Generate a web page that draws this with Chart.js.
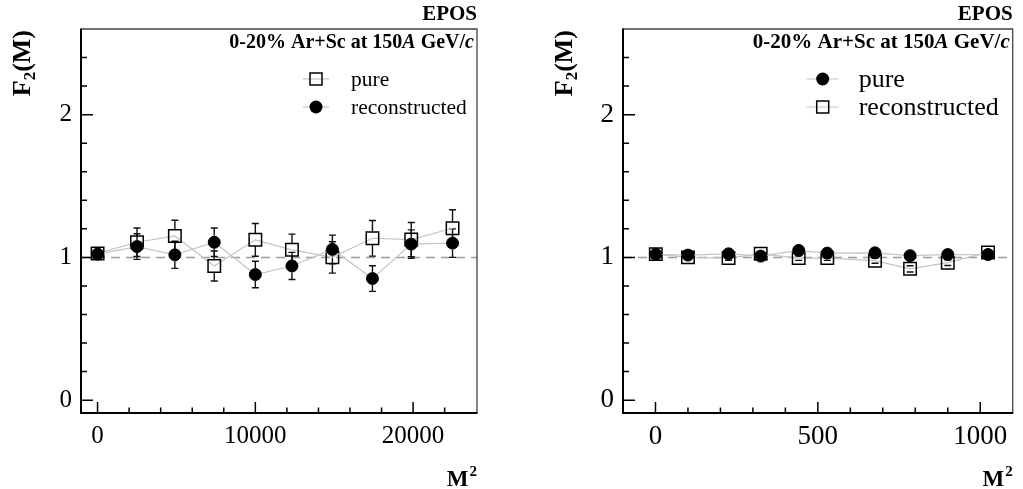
<!DOCTYPE html>
<html><head><meta charset="utf-8">
<script src="https://cdn.jsdelivr.net/npm/chart.js@4.4.0/dist/chart.umd.min.js"></script>
<style>
html,body{margin:0;padding:0;background:#fff;width:1023px;height:489px;overflow:hidden}
canvas{position:absolute;top:0}
</style></head><body>
<canvas id="cL" width="512" height="489" style="left:0px"></canvas>
<canvas id="cR" width="512" height="489" style="left:511px"></canvas>
<script>
// ---------------- DATA ----------------
const LEFT_M2        = [1, 2500, 4900, 7396, 10000, 12321, 14884, 17424, 19881, 22500];
const LEFT_PURE      = [1.028, 1.106, 1.150, 0.940, 1.123, 1.053, 1.000, 1.134, 1.125, 1.204];
const LEFT_PURE_ERR  = [0.020, 0.100, 0.110, 0.105, 0.115, 0.110, 0.110, 0.125, 0.120, 0.130];
const LEFT_RECO      = [1.023, 1.076, 1.018, 1.106, 0.880, 0.940, 1.056, 0.852, 1.093, 1.100];
const LEFT_RECO_ERR  = [0.020, 0.090, 0.095, 0.100, 0.093, 0.095, 0.100, 0.090, 0.100, 0.100];

const RIGHT_M2       = [1, 100, 225, 324, 441, 529, 676, 784, 900, 1024];
const RIGHT_PURE     = [1.022, 1.016, 1.025, 1.009, 1.049, 1.030, 1.032, 1.012, 1.020, 1.020];
const RIGHT_PURE_ERR = [0.012, 0.012, 0.012, 0.012, 0.012, 0.012, 0.012, 0.012, 0.012, 0.012];
const RIGHT_RECO     = [1.023, 1.000, 0.995, 1.025, 0.995, 0.995, 0.977, 0.920, 0.963, 1.035];
const RIGHT_RECO_ERR = [0.012, 0.014, 0.015, 0.015, 0.016, 0.016, 0.018, 0.022, 0.020, 0.014];

const Y_TICKS        = [0, 1, 2];
const Y_MINOR        = [0.2, 0.4, 0.6, 0.8, 1.2, 1.4, 1.6, 1.8, 2.2, 2.4];
const LEFT_X_TICKS   = [0, 10000, 20000];
const LEFT_X_MINOR   = [2000, 4000, 6000, 8000, 12000, 14000, 16000, 18000, 22000];
const RIGHT_X_TICKS  = [0, 500, 1000];
const RIGHT_X_MINOR  = [100, 200, 300, 400, 600, 700, 800, 900];

const GENERATOR   = 'EPOS';
const SYSTEM_TEXT = [['0-20% Ar+Sc at 150', ''], ['A', 'italic '], [' GeV/', ''], ['c', 'italic ']];
const LABEL_PURE  = 'pure';
const LABEL_RECO  = 'reconstructed';
const Y_TITLE     = ['F', '2', '(M)'];
const X_TITLE     = ['M', '2'];

// ---------------- STYLE ----------------
const SERIF = '"Liberation Serif", "Times New Roman", "DejaVu Serif", serif';
const LINE_GREY = '#c4c4c4';

function segWidth(ctx, segs, size) {
  let w = 0;
  segs.forEach(([t, st]) => { ctx.font = st + 'bold ' + size + 'px ' + SERIF; w += ctx.measureText(t).width; });
  return w;
}
function drawSegs(ctx, segs, size, xRight, y) {
  let x = xRight - segWidth(ctx, segs, size);
  ctx.textAlign = 'left'; ctx.textBaseline = 'alphabetic';
  segs.forEach(([t, st]) => { ctx.font = st + 'bold ' + size + 'px ' + SERIF; ctx.fillText(t, x, y); x += ctx.measureText(t).width; });
}
function drawMarker(ctx, kind, x, y) {
  ctx.save();
  ctx.strokeStyle = '#000';
  if (kind === 'circle') {
    ctx.fillStyle = '#000'; ctx.beginPath(); ctx.arc(x, y, 6.5, 0, Math.PI * 2); ctx.fill();
  } else {
    ctx.lineWidth = 1.5; ctx.strokeRect(x - 6, y - 6, 12, 12);
  }
  ctx.restore();
}

const deco = {
  id: 'deco',
  beforeDatasetsDraw(chart) {
    const ctx = chart.ctx;
    const { left, right } = chart.chartArea;
    const xs = chart.scales.x, ys = chart.scales.y;
    ctx.save();
    ctx.strokeStyle = '#9c9c9c'; ctx.lineWidth = 1.5; ctx.setLineDash([9, 6]);
    const y1 = ys.getPixelForValue(1);
    ctx.beginPath(); ctx.moveTo(left, y1); ctx.lineTo(right, y1); ctx.stroke();
    ctx.setLineDash([]);
    ctx.strokeStyle = '#111'; ctx.lineWidth = 1.4;
    chart.data.datasets.forEach(ds => {
      const gap = ds.pointStyle === 'rect' ? 6 : 6.5;
      ds.data.forEach((p, i) => {
        const e = ds.errors[i];
        const px = xs.getPixelForValue(p.x), py = ys.getPixelForValue(p.y);
        const pt = ys.getPixelForValue(p.y + e), pb = ys.getPixelForValue(p.y - e);
        ctx.beginPath();
        if (py - pt > gap) { ctx.moveTo(px, py - gap); ctx.lineTo(px, pt); ctx.moveTo(px, pb); ctx.lineTo(px, py + gap); }
        ctx.moveTo(px - 3.5, pt); ctx.lineTo(px + 3.5, pt);
        ctx.moveTo(px - 3.5, pb); ctx.lineTo(px + 3.5, pb);
        ctx.stroke();
      });
    });
    ctx.restore();
  },
  afterDraw(chart) {
    const o = chart.options.plugins.deco, ctx = chart.ctx;
    const { left, right, top, bottom } = chart.chartArea;
    const xs = chart.scales.x, ys = chart.scales.y;
    ctx.save();
    // frame
    ctx.strokeStyle = '#444'; ctx.lineWidth = 1.3;
    ctx.beginPath(); ctx.moveTo(left, top); ctx.lineTo(right, top); ctx.lineTo(right, bottom); ctx.stroke();
    ctx.strokeStyle = '#000'; ctx.lineWidth = 2;
    ctx.beginPath(); ctx.moveTo(left, top - 0.5); ctx.lineTo(left, bottom); ctx.lineTo(right + 0.5, bottom); ctx.stroke();
    // ticks
    ctx.lineWidth = 1.5;
    ctx.beginPath();
    Y_TICKS.forEach(v => { const y = ys.getPixelForValue(v); ctx.moveTo(left, y); ctx.lineTo(left + 12, y); });
    Y_MINOR.forEach(v => { const y = ys.getPixelForValue(v); ctx.moveTo(left, y); ctx.lineTo(left + 6, y); });
    o.xTicks.forEach(v => { const x = xs.getPixelForValue(v); ctx.moveTo(x, bottom); ctx.lineTo(x, bottom - 11); });
    o.xMinor.forEach(v => { const x = xs.getPixelForValue(v); ctx.moveTo(x, bottom); ctx.lineTo(x, bottom - 5.5); });
    ctx.stroke();
    // texts
    ctx.fillStyle = '#000';
    drawSegs(ctx, [[GENERATOR, '']], 21, right, 20);
    drawSegs(ctx, SYSTEM_TEXT, o.headSize, right - 3, 48);
    // legend
    o.legend.forEach(([label, kind], k) => {
      const y = o.legY[k];
      const mx = right - o.legMarkerOff;
      ctx.strokeStyle = LINE_GREY; ctx.lineWidth = 1.2;
      ctx.beginPath(); ctx.moveTo(mx - o.legLine, y); ctx.lineTo(mx + o.legLine, y); ctx.stroke();
      drawMarker(ctx, kind, mx, y);
      ctx.fillStyle = '#000';
      ctx.font = o.legSize + 'px ' + SERIF; ctx.textAlign = 'left'; ctx.textBaseline = 'middle';
      ctx.fillText(label, right - o.legTextOff, y + 1);
    });
    // x title
    ctx.textBaseline = 'alphabetic';
    ctx.font = 'bold 15px ' + SERIF; const wSup = ctx.measureText(X_TITLE[1]).width;
    ctx.font = 'bold 23px ' + SERIF; const wM = ctx.measureText(X_TITLE[0]).width;
    ctx.textAlign = 'left';
    ctx.fillText(X_TITLE[0], right - wSup - wM - 1, 486);
    ctx.font = 'bold 15px ' + SERIF; ctx.fillText(X_TITLE[1], right - wSup, 476);
    // y title (rotated)
    ctx.save();
    ctx.translate(o.yTitleX, top + 1);
    ctx.rotate(-Math.PI / 2);
    ctx.font = 'bold 26px ' + SERIF; const wF = ctx.measureText(Y_TITLE[0]).width, wP = ctx.measureText(Y_TITLE[2]).width;
    ctx.font = 'bold 17px ' + SERIF; const wS = ctx.measureText(Y_TITLE[1]).width;
    let x0 = -(wF + wS + wP);
    ctx.textAlign = 'left';
    ctx.font = 'bold 26px ' + SERIF; ctx.fillText(Y_TITLE[0], x0, 0);
    ctx.font = 'bold 17px ' + SERIF; ctx.fillText(Y_TITLE[1], x0 + wF, 5);
    ctx.font = 'bold 26px ' + SERIF; ctx.fillText(Y_TITLE[2], x0 + wF + wS, 0);
    ctx.restore();
    ctx.restore();
  }
};

function makeChart(id, cfg) {
  const datasets = cfg.series.map(s => ({
    data: cfg.x.map((xv, i) => ({ x: xv, y: s.y[i] })),
    errors: s.err,
    showLine: true,
    borderColor: LINE_GREY,
    borderWidth: 1.2,
    pointStyle: s.kind === 'circle' ? 'circle' : 'rect',
    pointRadius: s.kind === 'circle' ? 6 : 8.8,
    pointBorderWidth: s.kind === 'circle' ? 1 : 1.5,
    pointBorderColor: '#000',
    pointBackgroundColor: s.kind === 'circle' ? '#000' : 'rgba(0,0,0,0)',
    order: s.kind === 'circle' ? 0 : 1
  }));
  return new Chart(document.getElementById(id), {
    type: 'scatter',
    data: { datasets },
    plugins: [deco],
    options: {
      responsive: false, animation: false, devicePixelRatio: 1,
      layout: { padding: { top: 29, right: cfg.padRight, left: 0, bottom: 0 } },
      plugins: {
        legend: { display: false }, tooltip: { enabled: false },
        deco: cfg.deco
      },
      scales: {
        x: {
          type: 'linear', min: cfg.xMin, max: cfg.xMax,
          grid: { display: false, drawTicks: false }, border: { display: false },
          afterFit: s => { s.height = 76; },
          afterBuildTicks: s => { s.ticks = cfg.xTicks.map(v => ({ value: v })); },
          ticks: { color: '#000', padding: 8, maxRotation: 0, font: { family: SERIF, size: cfg.tickSize }, callback: v => String(v) }
        },
        y: {
          type: 'linear', min: -0.09, max: 2.6,
          grid: { display: false, drawTicks: false }, border: { display: false },
          afterFit: s => { s.width = cfg.yAxisW; },
          afterBuildTicks: s => { s.ticks = Y_TICKS.map(v => ({ value: v })); },
          ticks: { color: '#000', padding: 9, font: { family: SERIF, size: cfg.tickSize }, callback: v => String(v) }
        }
      }
    }
  });
}

makeChart('cL', {
  x: LEFT_M2, xMin: -1050, xMax: 24050, xTicks: LEFT_X_TICKS, padRight: 35, yAxisW: 81, tickSize: 25,
  series: [
    { y: LEFT_PURE, err: LEFT_PURE_ERR, kind: 'rect' },
    { y: LEFT_RECO, err: LEFT_RECO_ERR, kind: 'circle' }
  ],
  deco: {
    xTicks: LEFT_X_TICKS, xMinor: LEFT_X_MINOR, headSize: 20, yTitleX: 30,
    legend: [[LABEL_PURE, 'rect'], [LABEL_RECO, 'circle']],
    legY: [79, 107], legMarkerOff: 161, legTextOff: 126, legLine: 13, legSize: 21.5
  }
});

makeChart('cR', {
  x: RIGHT_M2, xMin: -100, xMax: 1100, xTicks: RIGHT_X_TICKS, padRight: 4, yAxisW: 112, tickSize: 27,
  series: [
    { y: RIGHT_PURE, err: RIGHT_PURE_ERR, kind: 'circle' },
    { y: RIGHT_RECO, err: RIGHT_RECO_ERR, kind: 'rect' }
  ],
  deco: {
    xTicks: RIGHT_X_TICKS, xMinor: RIGHT_X_MINOR, headSize: 21, yTitleX: 30 + 31,
    legend: [[LABEL_PURE, 'circle'], [LABEL_RECO, 'rect']],
    legY: [79, 107], legMarkerOff: 190, legTextOff: 154, legLine: 16, legSize: 26
  }
});
</script>
</body></html>
